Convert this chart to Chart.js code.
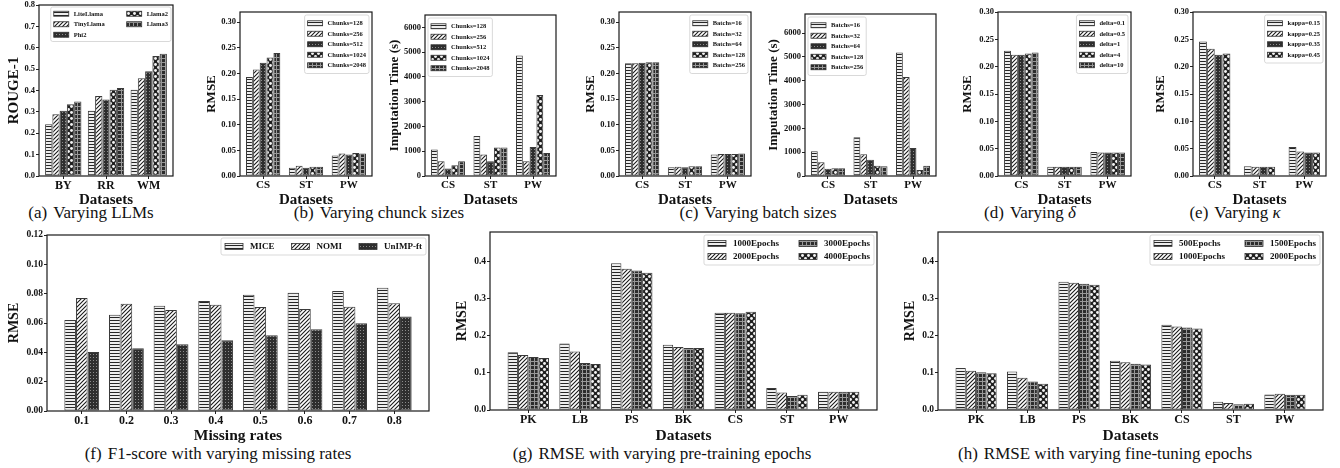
<!DOCTYPE html>
<html><head><meta charset="utf-8">
<script src="https://cdn.jsdelivr.net/npm/chart.js@4.4.1/dist/chart.umd.min.js"></script>
<style>
html,body{margin:0;padding:0;background:#fff;}
body{width:1340px;height:468px;position:relative;overflow:hidden;}
.cv{position:absolute;}
.cap{position:absolute;font-family:"Liberation Serif","Times New Roman",serif;font-size:17px;color:#111;white-space:nowrap;transform:translate(-50%,-50%);line-height:1;}
.cap .l{margin-left:6px;}
</style></head><body>
<div class="cap" style="left:91px;top:212px">(a)<span class="l">Varying LLMs</span></div>
<div class="cap" style="left:379px;top:212px">(b)<span class="l">Varying chunck sizes</span></div>
<div class="cap" style="left:758px;top:212px">(c)<span class="l">Varying batch sizes</span></div>
<div class="cap" style="left:1030px;top:212px">(d)<span class="l">Varying <i>δ</i></span></div>
<div class="cap" style="left:1235px;top:212px">(e)<span class="l">Varying <i>κ</i></span></div>
<div class="cap" style="left:218px;top:453px">(f)<span class="l">F1-score with varying missing rates</span></div>
<div class="cap" style="left:662px;top:453px">(g)<span class="l">RMSE with varying pre-training epochs</span></div>
<div class="cap" style="left:1105px;top:453px">(h)<span class="l">RMSE with varying fine-tuning epochs</span></div>
<script>
// ---------------- DATA ----------------
// (a) Varying LLMs
const llmCats = ['BY', 'RR', 'WM'];
const llmNames = ['LiteLlama', 'TinyLlama', 'Phi2', 'Llama2', 'Llama3'];
const rougeLiteLlama = [0.242, 0.305, 0.404];
const rougeTinyLlama = [0.289, 0.374, 0.457];
const rougePhi2 = [0.305, 0.358, 0.490];
const rougeLlama2 = [0.336, 0.404, 0.561];
const rougeLlama3 = [0.349, 0.412, 0.572];
const rougeTicks = [0, 0.1, 0.2, 0.3, 0.4, 0.5, 0.6, 0.7, 0.8];

// shared three-dataset categories
const dsCats = ['CS', 'ST', 'PW'];
const rmseTicks = [0, 0.05, 0.10, 0.15, 0.20, 0.25, 0.30];
const timeTicks = [0, 1000, 2000, 3000, 4000, 5000, 6000];

// (b) Varying chunk sizes
const chunkNames = ['Chunks=128', 'Chunks=256', 'Chunks=512', 'Chunks=1024', 'Chunks=2048'];
const chunkRmse128 = [0.193, 0.016, 0.040];
const chunkRmse256 = [0.208, 0.020, 0.044];
const chunkRmse512 = [0.221, 0.016, 0.042];
const chunkRmse1024 = [0.231, 0.018, 0.045];
const chunkRmse2048 = [0.240, 0.018, 0.044];
const chunkTime128 = [1070, 1610, 4865];
const chunkTime256 = [595, 865, 595];
const chunkTime512 = [300, 595, 1175];
const chunkTime1024 = [430, 1150, 3270];
const chunkTime2048 = [595, 1150, 930];

// (c) Varying batch sizes
const batchNames = ['Batchs=16', 'Batchs=32', 'Batchs=64', 'Batchs=128', 'Batchs=256'];
const batchRmse16 = [0.220, 0.017, 0.042];
const batchRmse32 = [0.220, 0.018, 0.043];
const batchRmse64 = [0.221, 0.017, 0.043];
const batchRmse128 = [0.222, 0.019, 0.043];
const batchRmse256 = [0.222, 0.019, 0.044];
const batchTime16 = [1040, 1630, 5180];
const batchTime32 = [580, 910, 4160];
const batchTime64 = [300, 680, 1180];
const batchTime128 = [330, 430, 250];
const batchTime256 = [330, 410, 435];

// (d) Varying delta
const deltaNames = ['delta=0.1', 'delta=0.5', 'delta=1', 'delta=4', 'delta=10'];
const delta01 = [0.229, 0.017, 0.044];
const delta05 = [0.222, 0.017, 0.043];
const delta1 = [0.222, 0.017, 0.043];
const delta4 = [0.224, 0.017, 0.043];
const delta10 = [0.226, 0.017, 0.043];

// (e) Varying kappa
const kappaNames = ['kappa=0.15', 'kappa=0.25', 'kappa=0.35', 'kappa=0.45'];
const kappa015 = [0.246, 0.018, 0.053];
const kappa025 = [0.233, 0.017, 0.045];
const kappa035 = [0.222, 0.017, 0.043];
const kappa045 = [0.224, 0.017, 0.043];

// (f) missing rates
const missCats = ['0.1', '0.2', '0.3', '0.4', '0.5', '0.6', '0.7', '0.8'];
const missNames = ['MICE', 'NOMI', 'UnIMP-ft'];
const missMICE = [0.062, 0.0656, 0.0718, 0.075, 0.0793, 0.0807, 0.0818, 0.0841];
const missNOMI = [0.077, 0.0731, 0.0688, 0.0724, 0.0709, 0.0695, 0.0711, 0.0734];
const missUnIMP = [0.0402, 0.0427, 0.0455, 0.0482, 0.0517, 0.0558, 0.0599, 0.0644];
const missTicks = [0, 0.02, 0.04, 0.06, 0.08, 0.10, 0.12];

// (g) pre-training epochs, (h) fine-tuning epochs
const epochCats = ['PK', 'LB', 'PS', 'BK', 'CS', 'ST', 'PW'];
const epochTicks = [0, 0.1, 0.2, 0.3, 0.4];
const preNames = ['1000Epochs', '2000Epochs', '3000Epochs', '4000Epochs'];
const pre1000 = [0.156, 0.179, 0.3955, 0.176, 0.262, 0.059, 0.049];
const pre2000 = [0.148, 0.158, 0.381, 0.170, 0.262, 0.047, 0.049];
const pre3000 = [0.143, 0.127, 0.376, 0.167, 0.261, 0.038, 0.049];
const pre4000 = [0.1405, 0.124, 0.370, 0.167, 0.265, 0.041, 0.049];
const ftNames = ['500Epochs', '1000Epochs', '1500Epochs', '2000Epochs'];
const ft500 = [0.1135, 0.1036, 0.346, 0.133, 0.2297, 0.0225, 0.042];
const ft1000 = [0.106, 0.087, 0.343, 0.129, 0.225, 0.019, 0.044];
const ft1500 = [0.102, 0.0766, 0.3405, 0.125, 0.2225, 0.0157, 0.041];
const ft2000 = [0.099, 0.071, 0.338, 0.1225, 0.220, 0.017, 0.041];

// ---------------- RENDERING ----------------
const FONT = '"Liberation Serif", "Times New Roman", serif';

function makePatterns(ctx) {
  function tile(w, h, fn) {
    const c = document.createElement('canvas'); c.width = w; c.height = h;
    fn(c.getContext('2d'), w, h);
    return ctx.createPattern(c, 'repeat');
  }
  return {
    hline: tile(4, 3, (t, w, h) => { t.fillStyle = '#eeeeee'; t.fillRect(0, 0, w, h); t.fillStyle = '#262626'; t.fillRect(0, 0, w, 1); }),
    diag: tile(4, 4, (t, w, h) => { t.fillStyle = '#fff'; t.fillRect(0, 0, w, h); t.strokeStyle = '#1a1a1a'; t.lineWidth = 1.1;
      t.beginPath(); t.moveTo(-1, 5); t.lineTo(5, -1); t.moveTo(-1, 1); t.lineTo(1, -1); t.moveTo(3, 5); t.lineTo(5, 3); t.stroke(); }),
    dots: tile(3, 3, (t, w, h) => { t.fillStyle = '#2e2e2e'; t.fillRect(0, 0, w, h); t.fillStyle = '#8c8c8c'; t.fillRect(1, 1, 1, 1); }),
    circ: tile(6, 6, (t, w, h) => { t.fillStyle = '#202020'; t.fillRect(0, 0, w, h); t.fillStyle = '#f4f4f4';
      [[1.5, 1.5], [4.5, 4.5]].forEach(([x, y]) => { t.beginPath(); t.arc(x, y, 1.45, 0, Math.PI * 2); t.fill(); }); }),
    grid: tile(4, 4, (t, w, h) => { t.fillStyle = '#2c2c2c'; t.fillRect(0, 0, w, h); t.fillStyle = '#999'; t.fillRect(0, 1, 4, 1); t.fillRect(1, 0, 1, 4); })
  };
}

const framePlugin = {
  id: 'frame',
  afterDraw(chart) {
    const { ctx, chartArea: a } = chart;
    ctx.save(); ctx.strokeStyle = '#1a1a1a'; ctx.lineWidth = 1.2;
    ctx.strokeRect(a.left, a.top, a.right - a.left, a.bottom - a.top);
    ctx.restore();
  }
};

function legendPlugin(L) {
  return {
    id: 'mplLegend',
    afterDraw(chart) {
      const ctx = chart.ctx, a = chart.chartArea;
      const ds = chart.data.datasets;
      const nrow = Math.ceil(ds.length / L.ncol);
      ctx.save();
      ctx.font = 'bold ' + L.size + 'px ' + FONT;
      const cols = [];
      for (let c = 0; c < L.ncol; c++) cols.push(ds.slice(c * nrow, (c + 1) * nrow));
      const cw = cols.map(col => L.sw + L.gap + Math.max(...col.map(d => ctx.measureText(d.label).width)));
      const w = 2 * L.padX + cw.reduce((s, v) => s + v, 0) + L.colSpace * (L.ncol - 1);
      const h = 2 * L.padY + nrow * L.rowH;
      const x = L.loc === 'left' ? a.left + L.inset : a.right - L.inset - w;
      const y = a.top + L.inset;
      ctx.beginPath();
      if (ctx.roundRect) ctx.roundRect(x, y, w, h, 2); else ctx.rect(x, y, w, h);
      ctx.fillStyle = 'rgba(255,255,255,0.85)'; ctx.fill();
      ctx.strokeStyle = '#cfcfcf'; ctx.lineWidth = 0.8; ctx.stroke();
      let cx = x + L.padX;
      cols.forEach((col, ci) => {
        col.forEach((d, ri) => {
          const cy = y + L.padY + L.rowH * (ri + 0.5);
          ctx.fillStyle = d.backgroundColor;
          ctx.fillRect(cx, cy - L.sh / 2, L.sw, L.sh);
          ctx.strokeStyle = '#333'; ctx.lineWidth = 0.8;
          ctx.strokeRect(cx, cy - L.sh / 2, L.sw, L.sh);
          ctx.fillStyle = '#111'; ctx.textBaseline = 'middle'; ctx.textAlign = 'left';
          ctx.fillText(d.label, cx + L.sw + L.gap, cy + 0.5);
        });
        cx += cw[ci] + L.colSpace;
      });
      ctx.restore();
    }
  };
}

function buildChart(S) {
  const [x0, y0, x1, y1] = S.plot;
  const padT = 8, padR = 3;
  const left = Math.floor(S.yTitleX - S.yTitleSize / 2 - 2);
  const yW = x0 - left;
  const top = y0 - padT;
  const W = (x1 - x0) + yW + padR;
  const H = (y1 - y0) + padT + S.xH;
  const cv = document.createElement('canvas');
  cv.className = 'cv';
  cv.style.left = left + 'px'; cv.style.top = top + 'px';
  cv.width = W; cv.height = H; cv.style.width = W + 'px'; cv.style.height = H + 'px';
  document.body.appendChild(cv);
  const ctx = cv.getContext('2d');
  const P = makePatterns(ctx);
  const N = S.cats.length, g = S.group;
  const m = g / 2 + 0.05 * (N - 1 + g);
  const datasets = S.series.map((vals, i) => ({
    label: S.names[i],
    data: vals.map((v, j) => ({ x: j, y: v })),
    backgroundColor: P[S.patterns[i]],
    borderColor: '#3a3a3a', borderWidth: 1, borderSkipped: false,
    categoryPercentage: g, barPercentage: 1
  }));
  const pt = S.yTitleX - left - S.yTitleSize / 2;
  const pb = H - S.xTitleSize / 2 - (S.xTitleY - top);
  new Chart(cv, {
    type: 'bar',
    data: { datasets },
    plugins: [framePlugin, legendPlugin(S.legend)],
    options: {
      responsive: false, animation: false, devicePixelRatio: 1,
      layout: { padding: { top: padT, right: padR, left: 0, bottom: 0 } },
      plugins: { legend: { display: false }, tooltip: { enabled: false } },
      scales: {
        x: {
          type: 'linear', min: -m, max: N - 1 + m, offset: false,
          afterBuildTicks: s => { s.ticks = S.cats.map((_, i) => ({ value: i })); },
          afterFit: s => { s.height = S.xH; },
          grid: { display: true, drawOnChartArea: false, drawTicks: true, tickLength: 3, tickColor: '#222', tickWidth: 1, offset: false },
          border: { display: false },
          ticks: { autoSkip: false, maxRotation: 0, minRotation: 0, padding: 0, color: '#111',
            font: { family: FONT, size: S.xTickSize, weight: 'bold' }, callback: v => S.cats[Math.round(v)] },
          title: { display: true, text: S.xTitle, color: '#111', font: { family: FONT, size: S.xTitleSize, weight: 'bold', lineHeight: 1 }, padding: { top: 0, bottom: pb } }
        },
        y: {
          min: 0, max: S.yMax,
          afterBuildTicks: s => { s.ticks = S.yTicks.map(v => ({ value: v })); },
          afterFit: s => { s.width = yW; },
          grid: { display: true, drawOnChartArea: false, drawTicks: true, tickLength: 3, tickColor: '#222', tickWidth: 1 },
          border: { display: false },
          ticks: { padding: 1, color: '#111', font: { family: FONT, size: S.yTickSize, weight: 'bold' }, callback: v => Number(v).toFixed(S.dec) },
          title: { display: true, text: S.yTitle, color: '#111', font: { family: FONT, size: S.yTitleSize, weight: 'bold', lineHeight: 1 }, padding: { top: pt, bottom: 0 } }
        }
      }
    }
  });
}

const TOP = { xH: 32, xTitleY: 200, xTitleSize: 15, xTickSize: 11, yTickSize: 8.5, yTitleSize: 13, xTitle: 'Datasets' };
const BOT = { xH: 35, xTitleY: 436, xTitleSize: 15.5, xTickSize: 12, yTickSize: 9.5, yTitleSize: 14 };
const PAT5 = ['hline', 'diag', 'dots', 'circ', 'grid'];
const LEG_TOP = { size: 6.5, sw: 15, sh: 5, gap: 5, rowH: 10.5, padX: 3, padY: 3, inset: 3, colSpace: 8, ncol: 1, loc: 'right' };
const LEG_BOT = { size: 9, sw: 18, sh: 6, gap: 7, rowH: 13, padX: 4, padY: 2, inset: 3, colSpace: 20, ncol: 2, loc: 'right' };

buildChart(Object.assign({}, TOP, { plot: [39, 5, 173, 176], yTitleX: 14, yTitleSize: 15, yTitle: 'ROUGE-1', xTickSize: 12,
  yMax: 0.8, yTicks: rougeTicks, dec: 1, group: 0.85, cats: llmCats, names: llmNames,
  series: [rougeLiteLlama, rougeTinyLlama, rougePhi2, rougeLlama2, rougeLlama3], patterns: PAT5,
  legend: Object.assign({}, LEG_TOP, { ncol: 2, colSpace: 22, inset: 2, padY: 1.5 }) }));

buildChart(Object.assign({}, TOP, { plot: [240, 12, 372, 176], yTitleX: 212, yTitle: 'RMSE',
  yMax: 0.32, yTicks: rmseTicks, dec: 2, group: 0.8, cats: dsCats, names: chunkNames,
  series: [chunkRmse128, chunkRmse256, chunkRmse512, chunkRmse1024, chunkRmse2048], patterns: PAT5,
  legend: Object.assign({}, LEG_TOP) }));

buildChart(Object.assign({}, TOP, { plot: [425, 15, 556, 176], yTitleX: 395, yTitle: 'Imputation Time (s)',
  yMax: 6500, yTicks: timeTicks, dec: 0, group: 0.8, cats: dsCats, names: chunkNames,
  series: [chunkTime128, chunkTime256, chunkTime512, chunkTime1024, chunkTime2048], patterns: PAT5,
  legend: Object.assign({}, LEG_TOP, { loc: 'left' }) }));

buildChart(Object.assign({}, TOP, { plot: [619, 12, 751, 176], yTitleX: 591, yTitle: 'RMSE',
  yMax: 0.32, yTicks: rmseTicks, dec: 2, group: 0.8, cats: dsCats, names: batchNames,
  series: [batchRmse16, batchRmse32, batchRmse64, batchRmse128, batchRmse256], patterns: PAT5,
  legend: Object.assign({}, LEG_TOP) }));

buildChart(Object.assign({}, TOP, { plot: [805, 14, 936, 176], yTitleX: 774, yTitle: 'Imputation Time (s)',
  yMax: 6800, yTicks: timeTicks, dec: 0, group: 0.8, cats: dsCats, names: batchNames,
  series: [batchTime16, batchTime32, batchTime64, batchTime128, batchTime256], patterns: PAT5,
  legend: Object.assign({}, LEG_TOP, { loc: 'left' }) }));

buildChart(Object.assign({}, TOP, { plot: [998, 12, 1131, 176], yTitleX: 968, yTitle: 'RMSE',
  yMax: 0.30, yTicks: rmseTicks, dec: 2, group: 0.8, cats: dsCats, names: deltaNames,
  series: [delta01, delta05, delta1, delta4, delta10], patterns: PAT5,
  legend: Object.assign({}, LEG_TOP) }));

buildChart(Object.assign({}, TOP, { plot: [1193, 12, 1326, 176], yTitleX: 1161, yTitle: 'RMSE',
  yMax: 0.30, yTicks: rmseTicks, dec: 2, group: 0.7, cats: dsCats, names: kappaNames,
  series: [kappa015, kappa025, kappa035, kappa045], patterns: ['hline', 'diag', 'dots', 'circ'],
  legend: Object.assign({}, LEG_TOP) }));

buildChart(Object.assign({}, BOT, { plot: [47, 235, 429, 411], yTitleX: 14, yTitle: 'RMSE', xTitle: 'Missing rates',
  yMax: 0.12, yTicks: missTicks, dec: 2, group: 0.78, cats: missCats, names: missNames,
  series: [missMICE, missNOMI, missUnIMP], patterns: ['hline', 'diag', 'dots'],
  legend: Object.assign({}, LEG_BOT, { ncol: 3, colSpace: 17 }) }));

buildChart(Object.assign({}, BOT, { plot: [490, 232, 877, 410], yTitleX: 462, yTitle: 'RMSE', xTitle: 'Datasets', xH: 36,
  yMax: 0.48, yTicks: epochTicks, dec: 1, group: 0.8, cats: epochCats, names: preNames,
  series: [pre1000, pre2000, pre3000, pre4000], patterns: ['hline', 'diag', 'grid', 'circ'],
  legend: Object.assign({}, LEG_BOT) }));

buildChart(Object.assign({}, BOT, { plot: [938, 232, 1323, 410], yTitleX: 910, yTitle: 'RMSE', xTitle: 'Datasets', xH: 36,
  yMax: 0.48, yTicks: epochTicks, dec: 1, group: 0.8, cats: epochCats, names: ftNames,
  series: [ft500, ft1000, ft1500, ft2000], patterns: ['hline', 'diag', 'grid', 'circ'],
  legend: Object.assign({}, LEG_BOT) }));
</script>
</body></html>
